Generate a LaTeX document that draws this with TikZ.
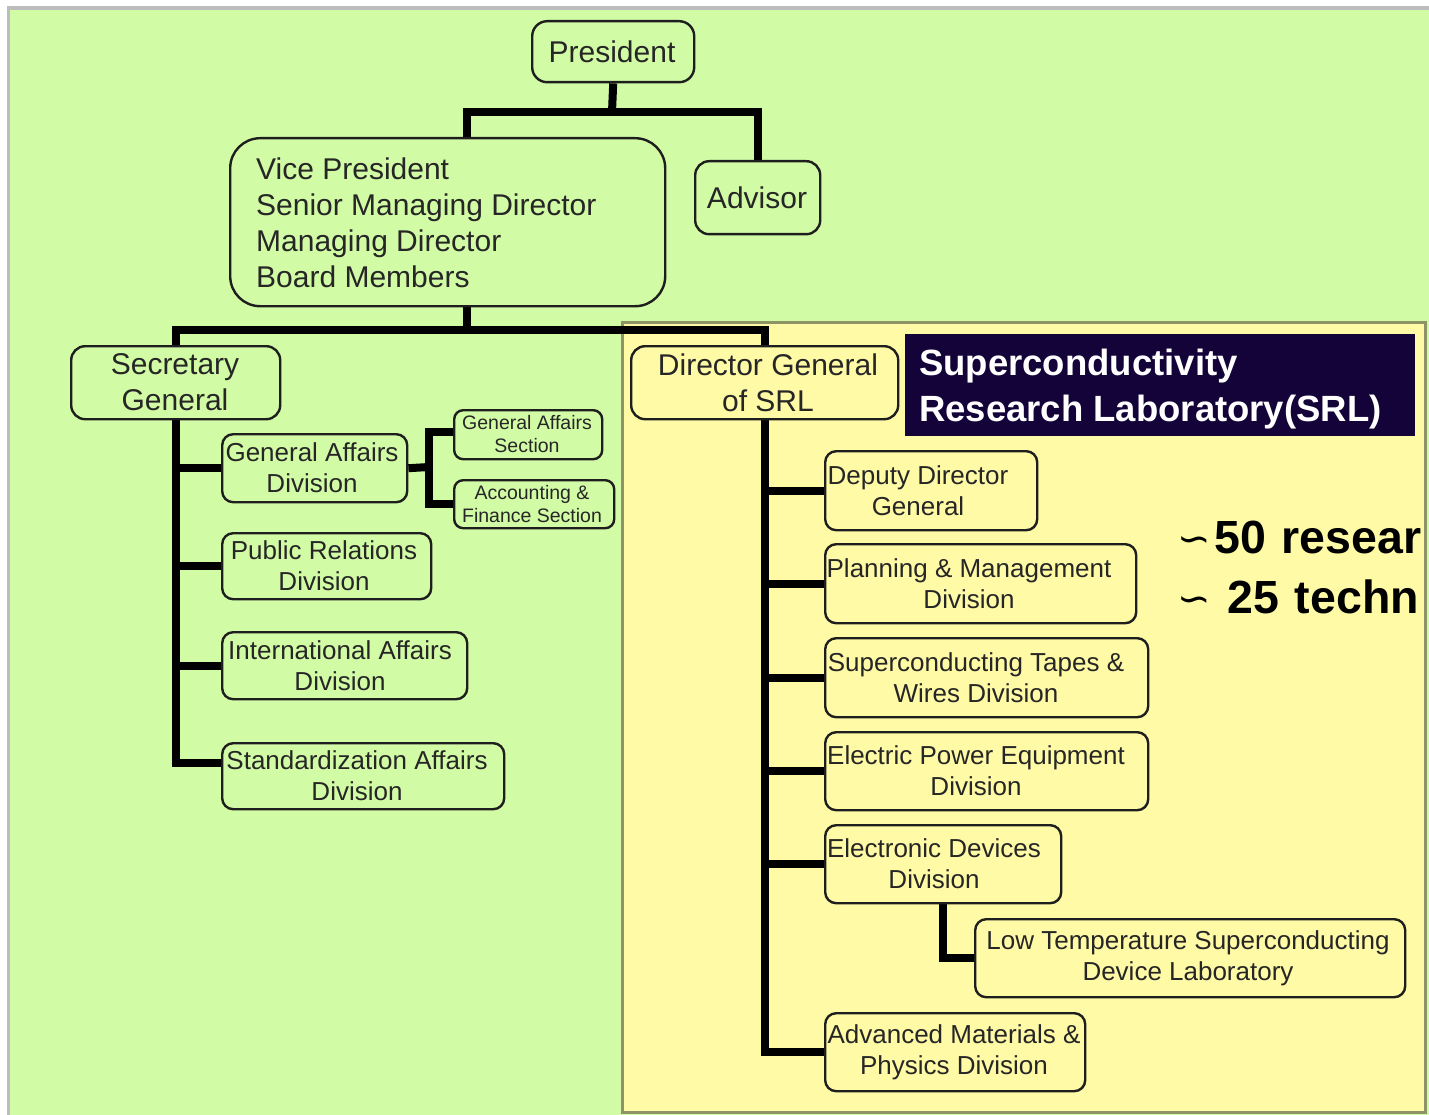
\documentclass[tikz,border=0pt]{standalone}
\usepackage{fontspec}
\setmainfont{Liberation Sans}
\newfontfamily\dvfont{DejaVu Sans}
\definecolor{bggreen}{HTML}{D2FBA5}
\definecolor{bgyellow}{HTML}{FFFAA6}
\definecolor{srlblue}{HTML}{140338}
\definecolor{boxline}{HTML}{1E1E1E}
\definecolor{txtc}{HTML}{262626}
\definecolor{framegrey}{HTML}{BDBDBD}
\definecolor{yedge}{HTML}{8F9466}
\pgfdeclarelayer{back}
\pgfdeclarelayer{wires}
\pgfsetlayers{back,wires,main}
\newcommand\orgbox[9]{%
  \node[#7, minimum width={(#4)-(#2)}, minimum height={(#5)-(#3)}, anchor=north west, inner sep=0pt] (#1) at (#2,#3) {};
  \node[lbl,#8] (#1-t) at ({#6},{((#3)+(#5))/2+1}) {#9};
}
\begin{document}
\begin{tikzpicture}[x=1pt,y=-1pt,
  conn/.style={line width=8pt, draw=black, line join=miter, line cap=butt},
  boxg/.style={draw=boxline, line width=2.4pt, rounded corners=11pt, fill=bggreen},
  boxy/.style={draw=boxline, line width=2.4pt, rounded corners=11pt, fill=bgyellow},
  lbl/.style={inner sep=0pt, align=center, text=txtc},
  big/.style={font=\fontsize{30}{36}\selectfont},
  mid/.style={font=\fontsize{26}{31}\selectfont},
  sml/.style={font=\fontsize{19.5}{23}\selectfont},
  staff/.style={inner sep=0pt, anchor=base west, font=\fontsize{46.5}{52}\bfseries\selectfont},
  wave/.style={inner sep=0pt, anchor=base west, font=\dvfont\fontsize{40}{48}\selectfont},
]
\useasboundingbox (0,0) rectangle (1429,1115);
\begin{pgfonlayer}{back}
  \fill[white] (0,0) rectangle (1429,1115);
  \fill[framegrey] (7,6) rectangle (1429,1115);
  \fill[bggreen] (10,10) rectangle (1429,1115);
  \filldraw[fill=bgyellow, draw=yedge, line width=3pt] (622,322) rectangle (1425,1112);
\end{pgfonlayer}

% top level
\orgbox{pres}{531}{20}{693}{81}{612}{boxg, rounded corners=15pt}{big}{President}
\node[boxg, rounded corners=30pt, minimum width=435, minimum height=168, anchor=north west, inner sep=0pt] (vp) at (229,137) {};
\node[lbl, big, align=left, anchor=west] (vp-t) at (256,223) {Vice President\\Senior Managing Director\\Managing Director\\Board Members};
\orgbox{adv}{694}{160}{819}{233}{757}{boxg, rounded corners=14pt}{big}{Advisor}
\orgbox{sec}{70}{345}{279}{418}{175}{boxg, rounded corners=14pt}{big}{Secretary\\General}
\orgbox{dg}{630}{345}{897}{418}{768}{boxy, rounded corners=14pt}{big}{Director General\\of SRL}

% secretary side
\orgbox{gad}{221}{433}{406}{501}{312}{boxg}{mid}{General Affairs\\Division}
\orgbox{prd}{221}{532}{430}{598}{324}{boxg}{mid}{Public Relations\\Division}
\orgbox{iad}{221}{631}{466}{698}{340}{boxg}{mid}{International Affairs\\Division}
\orgbox{sad}{221}{742}{503}{808}{357}{boxg}{mid}{Standardization Affairs\\Division}
\orgbox{gas}{453}{409}{601}{458}{527}{boxg, rounded corners=9pt}{sml}{General Affairs\\Section}
\orgbox{afs}{453}{479}{613}{527}{532}{boxg, rounded corners=9pt}{sml}{Accounting \&\\Finance Section}

% SRL side
\orgbox{ddg}{824}{450}{1036}{529}{918}{boxy}{mid}{Deputy Director\\General}
\orgbox{pmd}{824}{543}{1135}{622}{969}{boxy}{mid}{Planning \& Management\\Division}
\orgbox{stw}{824}{637}{1147}{716}{976}{boxy}{mid}{Superconducting Tapes \&\\Wires Division}
\orgbox{epe}{824}{731}{1147}{809}{976}{boxy}{mid}{Electric Power Equipment\\Division}
\orgbox{edd}{824}{824}{1060}{902}{934}{boxy}{mid}{Electronic Devices\\Division}
\orgbox{lts}{974}{918}{1404}{996}{1188}{boxy}{mid}{Low Temperature Superconducting\\Device Laboratory}
\orgbox{amp}{824}{1012}{1084}{1090}{954}{boxy}{mid}{Advanced Materials \&\\Physics Division}

% SRL label
\node[fill=srlblue, minimum width=510, minimum height=102, anchor=north west, inner sep=0pt] (srl) at (905,334) {};
\node[inner sep=0pt, anchor=west, align=left, text=white, font=\fontsize{36.5}{46}\bfseries\selectfont] (srl-t) at (919,389) {Superconductivity\\Research Laboratory(SRL)};

% staff counts (cut off at the right edge, as in the reference)
\begin{scope}
  \clip (0,0) rectangle (1429,1115);
  \node[wave] (w1) at (1177,552) {∽};
  \node[staff] (staff1) at (1214,553) {50\hspace{3pt} resear};
  \node[wave] (w2) at (1177,612) {∽};
  \node[staff] (staff2) at (1227,613) {25\hspace{3pt} techn};
\end{scope}

% connectors
\coordinate (jA) at (612,112);
\coordinate (jB) at (467,330);
\coordinate (jG) at (429,467);
\begin{pgfonlayer}{wires}
  \draw[conn] (pres.south) -- (jA);
  \draw[conn] (vp.north -| jB) |- (jA) -| (adv.north);
  \draw[conn] (vp.south -| jB) -- (jB);
  \draw[conn] (sec.north) |- (jB) -| (dg.north);
  % secretary trunk
  \draw[conn] (sec.south) |- ([yshift=13pt]sad.west);
  \draw[conn] (sec.south |- gad.west) -- (gad.west);
  \draw[conn] (sec.south |- prd.west) -- (prd.west);
  \draw[conn] (sec.south |- iad.west) -- (iad.west);
  \draw[conn] (gad.east) -- (jG);
  \draw[conn] ([yshift=3pt]gas.west) -| (jG) |- (afs.west);
  % SRL trunk
  \draw[conn] (dg.south) |- (amp.west);
  \draw[conn] (dg.south |- ddg.west) -- (ddg.west);
  \draw[conn] (dg.south |- pmd.west) -- (pmd.west);
  \draw[conn] (dg.south |- stw.west) -- (stw.west);
  \draw[conn] (dg.south |- epe.west) -- (epe.west);
  \draw[conn] (dg.south |- edd.west) -- (edd.west);
  \draw[conn] (edd.south) |- (lts.west);
\end{pgfonlayer}
\end{tikzpicture}
\end{document}
